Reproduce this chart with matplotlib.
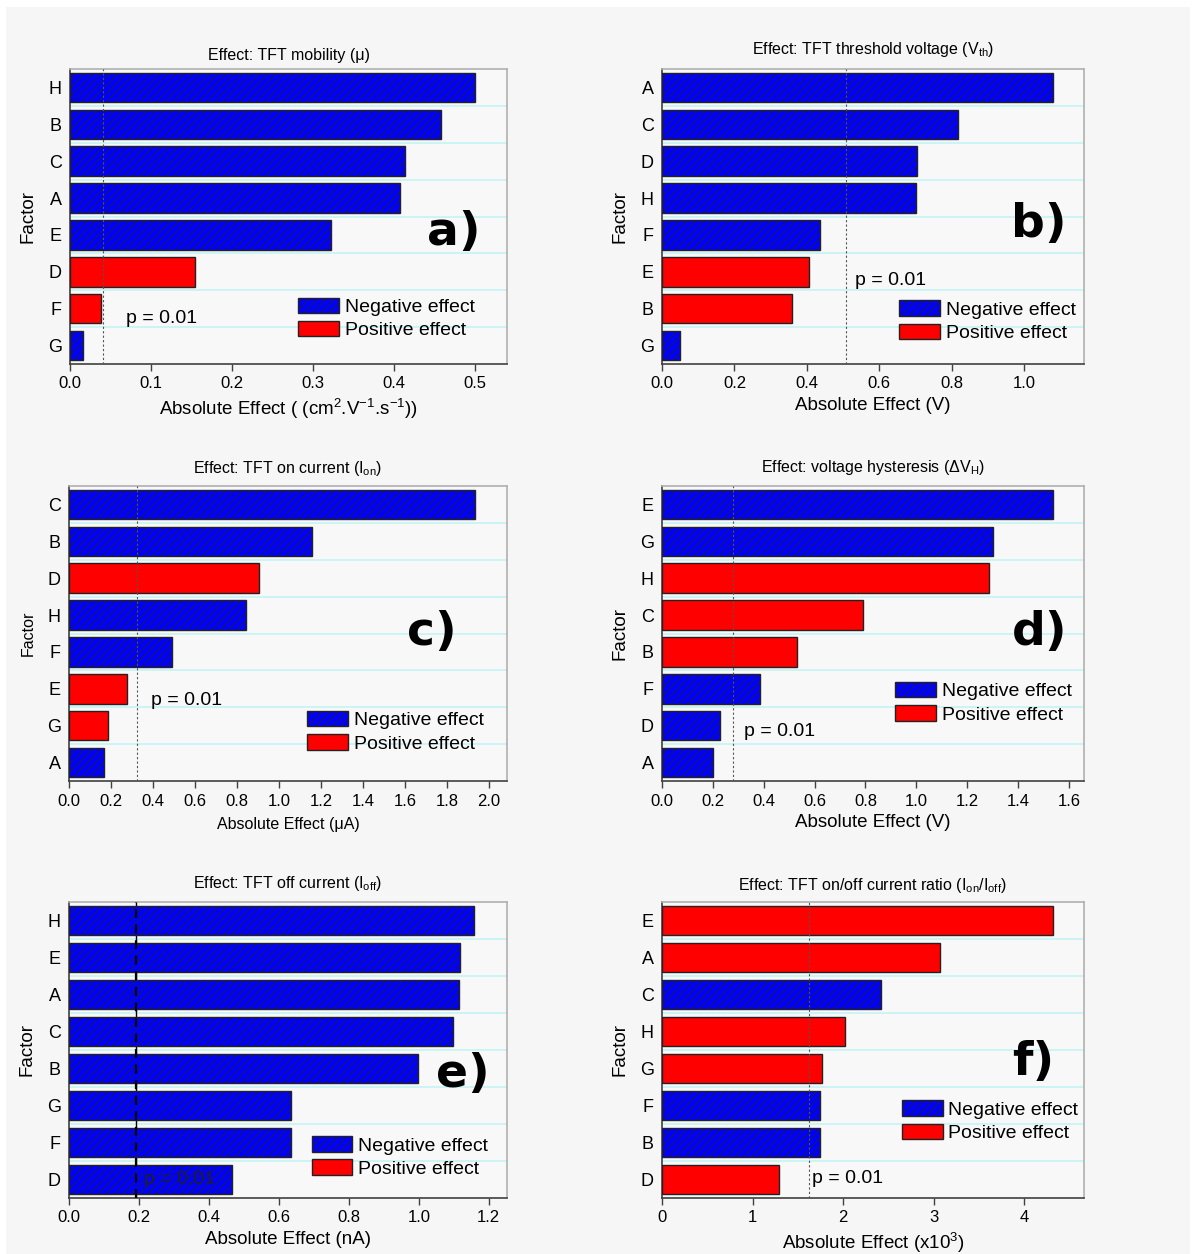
import numpy as np
import matplotlib
matplotlib.use('Agg')
import matplotlib.pyplot as plt
from matplotlib.patches import Patch, Rectangle

# fonts: Arial-like text, mathtext in the same family for sub/superscripts
plt.rcParams['font.family'] = ['Liberation Sans', 'DejaVu Sans']
plt.rcParams['mathtext.fontset'] = 'custom'
plt.rcParams['mathtext.rm'] = 'Liberation Sans'
plt.rcParams['mathtext.it'] = 'Liberation Sans:italic'
plt.rcParams['mathtext.bf'] = 'Liberation Sans:bold'
plt.rcParams['hatch.linewidth'] = 0.6
plt.rcParams['axes.unicode_minus'] = False

# ---- data ----
a_factors = ['H', 'B', 'C', 'A', 'E', 'D', 'F', 'G']
a_values = [0.500, 0.458, 0.414, 0.408, 0.322, 0.155, 0.038, 0.016]
a_signs = ['-', '-', '-', '-', '-', '+', '+', '-']
a_p = 0.041

b_factors = ['A', 'C', 'D', 'H', 'F', 'E', 'B', 'G']
b_values = [1.079, 0.816, 0.704, 0.700, 0.437, 0.407, 0.360, 0.049]
b_signs = ['-', '-', '-', '-', '-', '+', '+', '-']
b_p = 0.508

c_factors = ['C', 'B', 'D', 'H', 'F', 'E', 'G', 'A']
c_values = [1.935, 1.156, 0.905, 0.841, 0.491, 0.275, 0.185, 0.167]
c_signs = ['-', '-', '+', '-', '-', '+', '+', '-']
c_p = 0.326

d_factors = ['E', 'G', 'H', 'C', 'B', 'F', 'D', 'A']
d_values = [1.537, 1.303, 1.287, 0.791, 0.529, 0.386, 0.228, 0.200]
d_signs = ['-', '-', '+', '+', '+', '-', '-', '-']
d_p = 0.279

e_factors = ['H', 'E', 'A', 'C', 'B', 'G', 'F', 'D']
e_values = [1.157, 1.118, 1.114, 1.097, 0.997, 0.636, 0.634, 0.466]
e_signs = ['-', '-', '-', '-', '-', '-', '-', '-']
e_p = 0.191

f_factors = ['E', 'A', 'C', 'H', 'G', 'F', 'B', 'D']
f_values = [4.32, 3.07, 2.42, 2.02, 1.77, 1.75, 1.74, 1.29]
f_signs = ['+', '+', '-', '+', '+', '-', '-', '+']
f_p = 1.62

BLUE = '#0000ff'
RED = '#ff0000'
EDGE = '#222222'
GRID = '#c4f4f4'
BG = '#f6f6f6'
HATCH = '////'

W, H = 1193, 1254
fig = plt.figure(figsize=(W / 100, H / 100), dpi=100)
fig.patch.set_facecolor('white')
fig.patches.append(Rectangle((6 / W, 0), (1190 - 6) / W, (H - 7) / H,
                             transform=fig.transFigure, facecolor=BG,
                             edgecolor='none', zorder=-10))


def px_axes(l, r, t, b):
    # axes box given in pixels of the final image
    return fig.add_axes([l / W, 1 - b / H, (r - l) / W, (b - t) / H])


def draw_panel(ax, factors, values, signs, p, xmax, xticks, fmt, title, tpad,
               xlabel, tag, tag_xy, leg_xy, p_xy, small=False, heavy_p=False):
    ax.set_facecolor('#f8f8f8')
    y = np.arange(len(factors))
    for yi, v, s in zip(y, values, signs):
        if s == '-':
            ax.barh(yi, v, height=0.8, color=BLUE, edgecolor=EDGE, hatch=HATCH,
                    linewidth=1, zorder=3)
        else:
            ax.barh(yi, v, height=0.8, color=RED, edgecolor=EDGE,
                    linewidth=1, zorder=3)
    for yb in y[:-1] + 0.5:
        ax.axhline(yb, color=GRID, lw=1.2, zorder=1)

    if heavy_p:
        ax.axvline(p, color='black', lw=1.0, zorder=2)
        ax.axvline(p, color='black', lw=1.6, ls=(0, (4, 3)), zorder=4)
    else:
        ax.axvline(p, color='#555555', lw=0.8, ls=(0, (2, 2)), zorder=4)

    ax.set_ylim(len(factors) - 0.5, -0.5)
    ax.set_yticks(y)
    ax.set_yticklabels(factors)
    ax.set_xlim(0, xmax)
    ax.set_xticks(xticks)
    ax.set_xticklabels([fmt.format(t) for t in xticks])
    ax.tick_params(axis='y', length=0, pad=6, labelsize=13)
    ax.tick_params(axis='x', length=5, width=1, color='#404040',
                   labelsize=12, pad=4)

    for s in ['left', 'bottom']:
        ax.spines[s].set_color('#404040')
        ax.spines[s].set_linewidth(1.2)
    for s in ['top', 'right']:
        ax.spines[s].set_color('#b0b0b0')
        ax.spines[s].set_linewidth(1.2)

    lab = 11.5 if small else 13.5
    ax.set_xlabel(xlabel, fontsize=lab, labelpad=6 if small else 4)
    ax.set_ylabel('Factor', fontsize=lab, labelpad=8)
    ax.set_title(title, fontsize=11.5, pad=tpad)

    ax.text(tag_xy[0], tag_xy[1], tag, transform=ax.transAxes,
            fontsize=34, fontweight='bold', family='DejaVu Sans',
            ha='left', va='baseline', zorder=6)

    txt_col = '#202020' if heavy_p else 'black'
    ax.text(p_xy[0], p_xy[1], 'p = 0.01', transform=ax.transAxes,
            fontsize=14, color=txt_col, ha='left', va='baseline', zorder=6)

    handles = [Patch(facecolor=BLUE, edgecolor=EDGE, hatch=HATCH, label='Negative effect'),
               Patch(facecolor=RED, edgecolor=EDGE, label='Positive effect')]
    ax.legend(handles=handles, loc='upper left', bbox_to_anchor=leg_xy,
              frameon=False, fontsize=14, borderpad=0, borderaxespad=0,
              handlelength=2.1, handleheight=0.85, handletextpad=0.3,
              labelspacing=0.25)


ax_a = px_axes(70, 507, 69, 364)
draw_panel(ax_a, a_factors, a_values, a_signs, a_p, 0.54,
           [0.0, 0.1, 0.2, 0.3, 0.4, 0.5], '{:.1f}',
           'Effect: TFT mobility (μ)', 6.5,
           r'Absolute Effect ( (cm$^{\mathregular{2}}$.V$^{\mathregular{-1}}$.s$^{\mathregular{-1}}$))',
           'a)', (0.816, 0.403), (0.522, 0.225), (0.128, 0.140))

ax_b = px_axes(662, 1084, 69, 364)
draw_panel(ax_b, b_factors, b_values, b_signs, b_p, 1.165,
           [0.0, 0.2, 0.4, 0.6, 0.8, 1.0], '{:.1f}',
           r'Effect: TFT threshold voltage (V$_{\mathregular{th}}$)', 11,
           'Absolute Effect (V)',
           'b)', (0.826, 0.432), (0.562, 0.216), (0.457, 0.268))

ax_c = px_axes(69, 507, 486, 781)
draw_panel(ax_c, c_factors, c_values, c_signs, c_p, 2.087,
           [0.0, 0.2, 0.4, 0.6, 0.8, 1.0, 1.2, 1.4, 1.6, 1.8, 2.0], '{:.1f}',
           r'Effect: TFT on current (I$_{\mathregular{on}}$)', 9,
           'Absolute Effect (μA)',
           'c)', (0.771, 0.461), (0.544, 0.238), (0.187, 0.258), small=True)

ax_d = px_axes(662, 1084, 486, 781)
draw_panel(ax_d, d_factors, d_values, d_signs, d_p, 1.659,
           [0.0, 0.2, 0.4, 0.6, 0.8, 1.0, 1.2, 1.4, 1.6], '{:.1f}',
           r'Effect: voltage hysteresis (ΔV$_{\mathregular{H}}$)', 10.3,
           'Absolute Effect (V)',
           'd)', (0.829, 0.461), (0.552, 0.336), (0.194, 0.153))

ax_e = px_axes(69, 507, 902, 1198)
draw_panel(ax_e, e_factors, e_values, e_signs, e_p, 1.252,
           [0.0, 0.2, 0.4, 0.6, 0.8, 1.0, 1.2], '{:.1f}',
           r'Effect: TFT off current (I$_{\mathregular{off}}$)', 9.9,
           'Absolute Effect (nA)',
           'e)', (0.839, 0.376), (0.554, 0.209), (0.171, 0.047), heavy_p=True)

ax_f = px_axes(662, 1084, 902, 1198)
draw_panel(ax_f, f_factors, f_values, f_signs, f_p, 4.66,
           [0, 1, 2, 3, 4], '{:d}',
           r'Effect: TFT on/off current ratio (I$_{\mathregular{on}}$/I$_{\mathregular{off}}$)', 8.7,
           r'Absolute Effect (x10$^{\mathregular{3}}$)',
           'f)', (0.829, 0.416), (0.568, 0.330), (0.355, 0.050))

fig.savefig('out.png', dpi=100, facecolor=fig.get_facecolor())
